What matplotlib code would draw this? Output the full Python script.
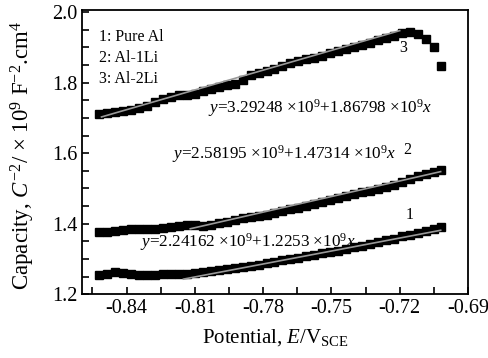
import matplotlib
matplotlib.use("Agg")
import matplotlib.pyplot as plt
import numpy as np
from matplotlib.ticker import MultipleLocator

plt.rcParams['font.family'] = ['Liberation Serif', 'DejaVu Serif']
plt.rcParams['mathtext.fontset'] = 'custom'
plt.rcParams['mathtext.rm'] = 'Liberation Serif'
plt.rcParams['mathtext.it'] = 'Liberation Serif:italic'

# potential (V vs SCE)
potential = [-0.852, -0.8485, -0.845, -0.8415, -0.838, -0.8345, -0.831, -0.8275,
             -0.824, -0.8205, -0.817, -0.8135, -0.810, -0.8065, -0.803, -0.7995,
             -0.796, -0.7925, -0.789, -0.7855, -0.782, -0.7785, -0.775, -0.7715,
             -0.768, -0.7645, -0.761, -0.7575, -0.754, -0.7505, -0.747, -0.7435,
             -0.740, -0.7365, -0.733, -0.7295, -0.726, -0.7225, -0.719, -0.7155,
             -0.712, -0.7085, -0.705, -0.702]

# C^-2 (x 1e9) for the three alloys
pure_al = [1.254, 1.258, 1.262, 1.261, 1.258, 1.256, 1.255, 1.256, 1.257, 1.257,
           1.257, 1.258, 1.259, 1.262, 1.266, 1.269, 1.272, 1.274, 1.277, 1.281,
           1.284, 1.288, 1.292, 1.296, 1.300, 1.304, 1.308, 1.312, 1.316, 1.320,
           1.324, 1.328, 1.333, 1.338, 1.343, 1.348, 1.353, 1.358, 1.364, 1.369,
           1.374, 1.379, 1.385, 1.390]
al_1li = [1.376, 1.378, 1.380, 1.382, 1.384, 1.385, 1.385, 1.386, 1.387, 1.390,
          1.395, 1.397, 1.396, 1.394, 1.396, 1.401, 1.405, 1.410, 1.415, 1.419,
          1.423, 1.426, 1.430, 1.435, 1.441, 1.446, 1.451, 1.456, 1.462, 1.468,
          1.473, 1.478, 1.484, 1.489, 1.494, 1.499, 1.505, 1.511, 1.518, 1.526,
          1.534, 1.541, 1.548, 1.552]
al_2li = [1.712, 1.714, 1.717, 1.720, 1.722, 1.728, 1.735, 1.745, 1.755, 1.760,
          1.764, 1.766, 1.768, 1.777, 1.783, 1.789, 1.793, 1.797, 1.808, 1.822,
          1.828, 1.833, 1.840, 1.848, 1.855, 1.861, 1.866, 1.870, 1.877, 1.884,
          1.890, 1.896, 1.902, 1.907, 1.913, 1.920, 1.926, 1.932, 1.940, 1.945,
          1.937, 1.925, 1.900, 1.848]

# linear fits y = a + b*x (in 1e9 units) and the range they were drawn over
fit_a = [2.24162, 2.58195, 3.29248]
fit_b = [1.2253, 1.47314, 1.86798]
fit_range = [(-0.815, -0.702), (-0.812, -0.702), (-0.851, -0.72)]

fig, ax = plt.subplots(figsize=(4.89, 3.58), dpi=100)
fig.subplots_adjust(left=0.168, right=0.957, top=0.972, bottom=0.178)

for ys in (pure_al, al_1li, al_2li):
    ax.plot(potential, ys, 's', color='black', ms=6.2, mec='black')

for a, b, (x0, x1) in zip(fit_a, fit_b, fit_range):
    xs = np.array([x0, x1])
    ax.plot(xs, a + b * xs, color='#999999', lw=1.2)

ax.set_xlim(-0.8595, -0.69)
ax.set_ylim(1.2, 2.006)
ax.xaxis.set_minor_locator(MultipleLocator(0.015))
ax.yaxis.set_major_locator(MultipleLocator(0.2))
ax.yaxis.set_minor_locator(MultipleLocator(0.05))
ax.set_xticks([-0.84, -0.81, -0.78, -0.75, -0.72, -0.69])
ax.set_xticklabels(['-0.84', '-0.81', '-0.78', '-0.75', '-0.72', '-0.69'])
ax.tick_params(which='both', direction='in', top=False, right=False,
               labelsize=14.5, width=1.2, length=5)
for s in ax.spines.values():
    s.set_linewidth(1.3)

ax.set_xlabel(r'Potential, $\mathit{E}$/V$_{\mathrm{SCE}}$', fontsize=15)
ax.xaxis.set_label_coords(0.5, -0.152, transform=ax.transAxes)
ax.xaxis.label.set_va('center')
ax.set_ylabel(r'Capacity, $\mathit{C}^{-2}$/ × 10$^{9}$ F$^{-2}$.cm$^{4}$', fontsize=16.5)
ax.yaxis.set_label_coords(-0.153, 0.488, transform=ax.transAxes)
ax.yaxis.label.set_va('center')

ax.text(0.043, 0.905, '1: Pure Al', transform=ax.transAxes, fontsize=11.5, va='center')
ax.text(0.043, 0.832, '2: Al-1Li', transform=ax.transAxes, fontsize=11.5, va='center')
ax.text(0.043, 0.757, '3: Al-2Li', transform=ax.transAxes, fontsize=11.5, va='center')

eq_kw = dict(fontsize=12.3, va='center')
ax.text(-0.8044, 1.728, r'$y$=3.29248 ×10$^{9}$+1.86798 ×10$^{9}$$x$', **eq_kw)
ax.text(-0.8200, 1.597, r'$y$=2.58195 ×10$^{9}$+1.47314 ×10$^{9}$$x$', **eq_kw)
ax.text(-0.8343, 1.348, r'$y$=2.24162 ×10$^{9}$+1.2253 ×10$^{9}$$x$', **eq_kw)
ax.text(-0.7186, 1.898, '3', fontsize=11.5, va='center', ha='center')
ax.text(-0.7168, 1.609, '2', fontsize=11.5, va='center', ha='center')
ax.text(-0.7155, 1.424, '1', fontsize=11.5, va='center', ha='center')

fig.savefig('out.png', dpi=100)
